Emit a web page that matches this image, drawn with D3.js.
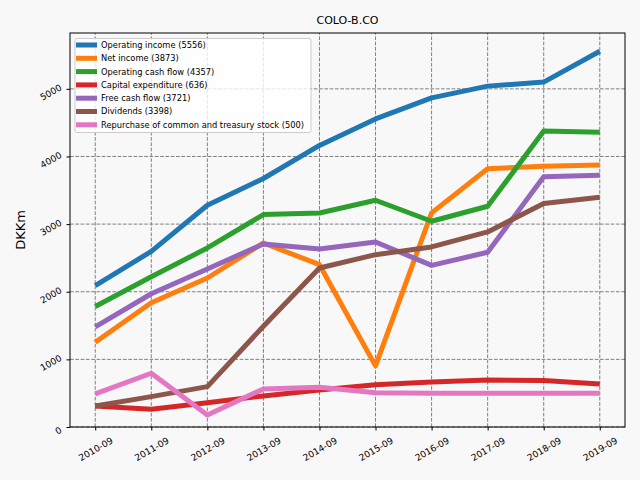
<!DOCTYPE html>
<html>
<head>
  <script src="https://d3js.org/d3.v7.min.js"></script>
  <style>
    body { margin: 0; background: #f8f8f8; }
    text { font-family: "DejaVu Sans", sans-serif; }
    .grid line { stroke: #808080; stroke-dasharray: 3.7,1.6; stroke-width: 1; }
    .series { fill: none; stroke-width: 5; stroke-linejoin: round; }
  </style>
</head>
<body>
  <div id="chart"></div>
  <script>
    // chart values
    var periods = ["2010-09", "2011-09", "2012-09", "2013-09", "2014-09",
                   "2015-09", "2016-09", "2017-09", "2018-09", "2019-09"];
    var operatingIncome = [2089, 2597, 3279, 3674, 4163, 4555, 4866, 5040, 5100, 5556];
    var netIncome = [1252, 1837, 2203, 2721, 2400, 904, 3166, 3817, 3857, 3873];
    var operatingCashFlow = [1782, 2222, 2647, 3141, 3165, 3353, 3042, 3264, 4375, 4357];
    var capitalExpenditure = [311, 262, 360, 459, 548, 625, 667, 696, 686, 636];
    var freeCashFlow = [1481, 1970, 2336, 2707, 2632, 2736, 2390, 2583, 3699, 3721];
    var dividends = [311, 449, 597, 1490, 2351, 2548, 2662, 2884, 3304, 3398];
    var repurchase = [489, 795, 178, 563, 588, 505, 500, 500, 500, 500];

    var seriesNames = ["Operating income", "Net income", "Operating cash flow",
      "Capital expenditure", "Free cash flow", "Dividends",
      "Repurchase of common and treasury stock"];
    var seriesValues = [operatingIncome, netIncome, operatingCashFlow,
      capitalExpenditure, freeCashFlow, dividends, repurchase];
    var colors = ["#1f77b4", "#ff7f0e", "#2ca02c", "#d62728", "#9467bd", "#8c564b", "#e377c2"];

    var width = 640, height = 480;
    var margin = {left: 70, right: 15, top: 33, bottom: 53};

    var svg = d3.select("#chart").append("svg")
      .attr("width", width)
      .attr("height", height);

    var x = d3.scaleLinear()
      .domain([-0.45, periods.length - 1 + 0.45])
      .range([margin.left, width - margin.right]);

    var maxVal = d3.max(seriesValues, function (s) { return d3.max(s); });
    var y = d3.scaleLinear()
      .domain([0, maxVal * 1.0485])
      .range([height - margin.bottom, margin.top]);

    var yTicks = [0, 1000, 2000, 3000, 4000, 5000];

    // grid
    var grid = svg.append("g").attr("class", "grid");
    grid.selectAll(".gx")
      .data(periods)
      .enter().append("line")
      .attr("x1", function (d, i) { return x(i); })
      .attr("x2", function (d, i) { return x(i); })
      .attr("y1", y.range()[0])
      .attr("y2", y.range()[1]);
    grid.selectAll(".gy")
      .data(yTicks)
      .enter().append("line")
      .attr("x1", x.range()[0])
      .attr("x2", x.range()[1])
      .attr("y1", function (d) { return y(d); })
      .attr("y2", function (d) { return y(d); });

    // lines
    var line = d3.line()
      .x(function (d, i) { return x(i); })
      .y(function (d) { return y(d); });

    svg.append("g")
      .selectAll("path")
      .data(seriesValues)
      .enter().append("path")
      .attr("class", "series")
      .attr("stroke", function (d, i) { return colors[i]; })
      .attr("d", line);

    // frame
    svg.append("rect")
      .attr("x", x.range()[0])
      .attr("y", y.range()[1])
      .attr("width", x.range()[1] - x.range()[0])
      .attr("height", y.range()[0] - y.range()[1])
      .attr("fill", "none")
      .attr("stroke", "#000")
      .attr("stroke-width", 1);

    // axes
    var xAxis = svg.append("g")
      .attr("transform", "translate(0," + y.range()[0] + ")")
      .call(d3.axisBottom(x)
        .tickValues(d3.range(periods.length))
        .tickFormat(function (i) { return periods[i]; })
        .tickSize(3.5));
    xAxis.select(".domain").remove();
    xAxis.selectAll("text")
      .attr("font-size", 9)
      .attr("font-family", "DejaVu Sans")
      .attr("fill", "#000")
      .attr("text-anchor", "middle")
      .attr("dy", "0.35em")
      .attr("x", 0)
      .attr("y", 0)
      .attr("transform", "translate(0,22) rotate(-30)");

    var yAxis = svg.append("g")
      .attr("transform", "translate(" + x.range()[0] + ",0)")
      .call(d3.axisLeft(y).tickValues(yTicks).tickFormat(d3.format("d")).tickSize(3.5));
    yAxis.select(".domain").remove();
    yAxis.selectAll("text")
      .attr("font-size", 9)
      .attr("font-family", "DejaVu Sans")
      .attr("fill", "#000")
      .attr("text-anchor", "middle")
      .attr("dy", "0.35em")
      .attr("x", 0)
      .attr("y", 0)
      .attr("transform", function (d) {
        var w = String(d).length * 5.7;
        var half = (w * 0.866 + 9 * 0.5) / 2;
        return "translate(" + (-7 - half) + ",3) rotate(-30)";
      });

    // title and label
    svg.append("text")
      .attr("x", (x.range()[0] + x.range()[1]) / 2)
      .attr("y", 24)
      .attr("text-anchor", "middle")
      .attr("font-size", 11)
      .text("COLO-B.CO");

    svg.append("text")
      .attr("transform", "translate(25," + ((y.range()[0] + y.range()[1]) / 2) + ") rotate(-90)")
      .attr("text-anchor", "middle")
      .attr("font-size", 13)
      .text("DKKm");

    // legend
    var legend = svg.append("g").attr("transform", "translate(75,38.5)");
    legend.append("rect")
      .attr("width", 236)
      .attr("height", 94)
      .attr("rx", 2)
      .attr("fill", "#ffffff")
      .attr("fill-opacity", 0.8)
      .attr("stroke", "#cccccc");
    var items = legend.selectAll(".item")
      .data(seriesNames)
      .enter().append("g")
      .attr("transform", function (d, i) { return "translate(0," + (6.5 + i * 13.3) + ")"; });
    items.append("line")
      .attr("x1", 1).attr("x2", 22)
      .attr("stroke-width", 5)
      .attr("stroke", function (d, i) { return colors[i]; });
    items.append("text")
      .attr("x", 26)
      .attr("dy", "0.35em")
      .attr("font-size", 8.3)
      .text(function (d, i) {
        var s = seriesValues[i];
        return d + " (" + s[s.length - 1] + ")";
      });
  </script>
</body>
</html>
